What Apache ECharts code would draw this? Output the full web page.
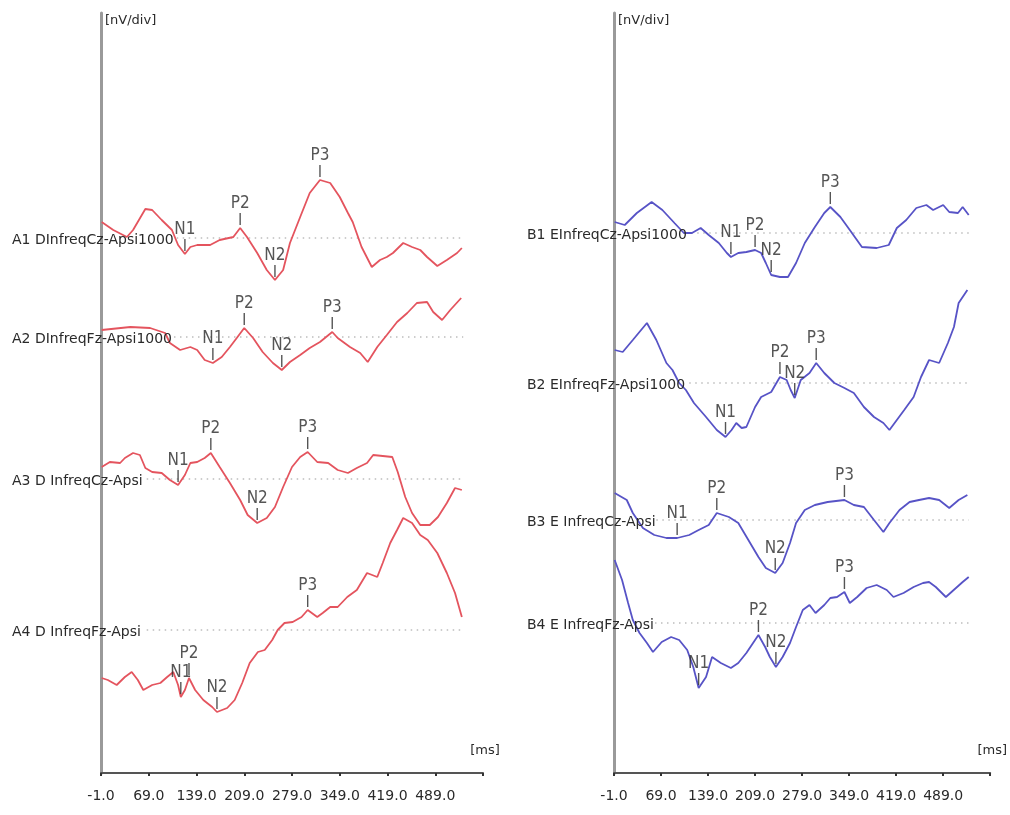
<!DOCTYPE html>
<html>
<head>
<meta charset="utf-8">
<script src="https://cdn.jsdelivr.net/npm/echarts@6/dist/echarts.min.js"></script>
<style>
html,body{margin:0;padding:0;background:#fff;}
#c{width:1010px;height:815px;}
</style>
</head>
<body>
<div id="c"></div>
<script>
// ---- DATA (time in ms, amplitude in arbitrary units relative to each trace baseline) ----
const xTicksMs = [-1, 69, 139, 209, 279, 349, 419, 489];

const leftNames = ['A1 DInfreqCz-Apsi1000', 'A2 DInfreqFz-Apsi1000', 'A3 D InfreqCz-Apsi', 'A4 D InfreqFz-Apsi'];
const rightNames = ['B1 EInfreqCz-Apsi1000', 'B2 EInfreqFz-Apsi1000', 'B3 E InfreqCz-Apsi', 'B4 E InfreqFz-Apsi'];

const A1 = [[0,1.6],[17,0.8],[37,0.1],[46,0.8],[64,2.9],[74,2.8],[88,1.8],[103,0.8],[112,-0.7],[122,-1.6],[130,-0.9],[140,-0.7],[159,-0.7],[173,-0.2],[193,0.1],[203,1.0],[213,0.1],[228,-1.5],[242,-3.2],[254,-4.2],[266,-3.2],[276,-0.5],[291,2.1],[305,4.5],[320,5.8],[335,5.5],[349,4.1],[361,2.5],[368,1.6],[381,-0.9],[396,-2.9],[408,-2.2],[418,-1.9],[427,-1.5],[442,-0.5],[455,-0.9],[467,-1.2],[477,-1.9],[492,-2.8],[506,-2.2],[521,-1.5],[528,-1.0]];
const A2 = [[0,0.7],[42,1.0],[71,0.9],[93,0.4],[100,-0.6],[115,-1.3],[130,-1.0],[140,-1.3],[151,-2.3],[163,-2.6],[176,-2.0],[188,-1.0],[198,-0.1],[209,0.9],[222,-0.1],[236,-1.5],[251,-2.6],[264,-3.3],[276,-2.5],[291,-1.8],[305,-1.1],[320,-0.5],[338,0.5],[346,-0.1],[364,-1.0],[379,-1.6],[390,-2.5],[404,-1.0],[418,0.2],[433,1.5],[448,2.4],[462,3.4],[477,3.5],[486,2.5],[499,1.7],[511,2.7],[527,3.9]];
const A3 = [[0,1.2],[12,1.7],[27,1.6],[34,2.1],[46,2.6],[56,2.4],[64,1.1],[74,0.7],[88,0.6],[100,-0.1],[112,-0.6],[122,0.4],[130,1.6],[140,1.7],[151,2.1],[160,2.6],[173,1.2],[188,-0.4],[203,-2.1],[214,-3.6],[228,-4.4],[242,-3.9],[254,-2.8],[266,-0.8],[279,1.2],[291,2.2],[302,2.7],[316,1.7],[332,1.6],[346,0.9],[361,0.6],[374,1.1],[389,1.6],[398,2.4],[426,2.2],[434,0.7],[445,-1.8],[455,-3.4],[467,-4.6],[481,-4.6],[493,-3.8],[506,-2.4],[518,-0.9],[528,-1.1]];
const A4 = [[0,-4.8],[9,-5.0],[22,-5.5],[34,-4.7],[44,-4.2],[53,-5.0],[61,-6.0],[74,-5.5],[86,-5.3],[96,-4.7],[105,-4.2],[112,-5.5],[116,-6.7],[122,-6.0],[128,-4.8],[137,-6.0],[149,-7.0],[162,-7.7],[169,-8.2],[184,-7.8],[195,-7.0],[206,-5.3],[217,-3.3],[229,-2.2],[239,-2.0],[250,-1.0],[258,0.0],[268,0.7],[280,0.8],[293,1.3],[302,2.0],[316,1.3],[324,1.7],[335,2.3],[346,2.3],[360,3.3],[374,4.0],[389,5.7],[404,5.3],[412,6.7],[423,8.7],[433,10.0],[442,11.2],[455,10.7],[467,9.5],[478,9.0],[492,7.7],[506,5.7],[518,3.7],[528,1.3]];

const B1 = [[0,1.1],[15,0.8],[33,2.0],[55,3.1],[71,2.3],[89,1.0],[103,0.0],[115,0.0],[128,0.5],[140,-0.2],[155,-1.0],[167,-2.0],[173,-2.4],[184,-2.0],[196,-1.9],[209,-1.7],[218,-2.0],[225,-3.0],[233,-4.2],[246,-4.4],[258,-4.4],[270,-3.0],[283,-1.0],[298,0.6],[312,2.0],[321,2.6],[336,1.6],[350,0.3],[368,-1.4],[390,-1.5],[408,-1.2],[420,0.5],[434,1.3],[449,2.5],[464,2.8],[474,2.3],[489,2.8],[498,2.1],[511,2.0],[518,2.6],[527,1.8]];
const B2 = [[0,3.3],[12,3.1],[27,4.3],[48,6.0],[62,4.3],[77,2.0],[86,1.3],[96,0.0],[106,-0.7],[118,-2.0],[136,-3.4],[152,-4.7],[165,-5.4],[174,-4.7],[181,-4.0],[189,-4.5],[196,-4.4],[209,-2.4],[218,-1.4],[233,-0.9],[239,-0.2],[246,0.6],[256,0.3],[262,-0.7],[268,-1.5],[277,0.3],[290,1.0],[300,2.0],[312,1.0],[327,0.0],[342,-0.5],[356,-1.0],[371,-2.4],[386,-3.4],[400,-4.0],[409,-4.7],[420,-3.7],[431,-2.7],[445,-1.4],[456,0.6],[468,2.3],[483,2.0],[496,4.0],[505,5.6],[512,8.0],[525,9.3]];
const B3 = [[0,2.7],[18,2.0],[27,0.7],[42,-0.8],[59,-1.5],[77,-1.8],[93,-1.8],[111,-1.5],[125,-1.0],[140,-0.5],[152,0.7],[170,0.3],[184,-0.3],[199,-2.0],[214,-3.7],[225,-4.8],[239,-5.3],[250,-4.3],[261,-2.3],[270,-0.3],[283,1.0],[298,1.5],[317,1.8],[342,2.0],[356,1.5],[371,1.3],[386,0.0],[400,-1.2],[409,-0.3],[424,1.0],[439,1.8],[453,2.0],[468,2.2],[483,2.0],[498,1.2],[512,2.0],[525,2.5]];
const B4 = [[0,6.3],[11,4.3],[20,2.0],[27,0.3],[37,-1.0],[48,-2.0],[57,-2.9],[70,-1.9],[84,-1.4],[96,-1.7],[108,-2.7],[117,-4.4],[125,-6.5],[136,-5.4],[145,-3.4],[158,-4.0],[173,-4.5],[184,-4.0],[196,-3.0],[206,-2.0],[214,-1.2],[224,-2.4],[231,-3.4],[240,-4.4],[250,-3.4],[261,-2.0],[270,-0.4],[280,1.3],[290,1.8],[299,1.0],[312,1.8],[321,2.5],[331,2.6],[342,3.1],[350,2.0],[361,2.6],[375,3.5],[390,3.8],[405,3.3],[415,2.6],[430,3.0],[445,3.6],[459,4.0],[468,4.1],[478,3.6],[493,2.6],[508,3.5],[518,4.1],[527,4.6]];

const peaksA1 = [['N1',122],['P2',203],['N2',254],['P3',320]];
const peaksA2 = [['N1',163],['P2',209],['N2',264],['P3',338]];
const peaksA3 = [['N1',112],['P2',160],['N2',228],['P3',302]];
const peaksA4 = [['N1',116],['P2',128],['N2',169],['P3',302]];
const peaksB1 = [['N1',173],['P2',209],['N2',233],['P3',321]];
const peaksB2 = [['N1',165],['P2',246],['N2',268],['P3',300]];
const peaksB3 = [['N1',93],['P2',152],['N2',239],['P3',342]];
const peaksB4 = [['N1',125],['P2',214],['N2',240],['P3',342]];

// vertical offsets of the stacked traces (axis units)
const leftOffsets = [53.5, 43.6, 29.4, 14.3];
const rightOffsets = [54.0, 39.0, 25.3, 15.0];
// dotted baseline extent in ms
const leftBaseStart = [110, 106, 66, 66];
const rightBaseStart = [105, 111, 62, 60];
const leftBaseEnd = 530;
const rightBaseEnd = 527;

// ---- BUILD ----
const SHIFT = 1; // axis runs from -1 ms; internally shifted so ticks fall on -1, 69, 139 ...
const RED = '#e4545e';
const BLUE = '#5753c6';
const FONT = 'DejaVu Sans';

function traceData(tr, off) { return tr.map(p => [p[0] + SHIFT, p[1] + off]); }
function peakData(tr, peaks, off) {
  return peaks.map(([name, ms]) => {
    let best = tr[0];
    tr.forEach(p => { if (Math.abs(p[0] - ms) < Math.abs(best[0] - ms)) best = p; });
    return { name: name, value: [best[0] + SHIFT, best[1] + off] };
  });
}

const series = [];
function addPanel(traces, peaks, offsets, starts, end, color, gi) {
  traces.forEach((tr, i) => {
    series.push({
      type: 'line', xAxisIndex: gi, yAxisIndex: gi, silent: true, z: 1,
      data: [[starts[i] + SHIFT, offsets[i]], [end + SHIFT, offsets[i]]],
      showSymbol: false, symbol: 'none',
      lineStyle: { color: '#9c9c9c', width: 1.2, type: [1.5, 4.5] }
    });
    series.push({
      type: 'line', xAxisIndex: gi, yAxisIndex: gi, silent: true, z: 3,
      data: traceData(tr, offsets[i]),
      showSymbol: false, symbol: 'none',
      lineStyle: { color: color, width: 1.8 }
    });
    series.push({
      type: 'scatter', xAxisIndex: gi, yAxisIndex: gi, silent: true, z: 4,
      data: peakData(tr, peaks[i], offsets[i]),
      symbol: 'rect', symbolSize: [1.4, 12], symbolOffset: [0, -9],
      itemStyle: { color: '#2a2a2a' },
      label: {
        show: true, position: 'top', distance: 1,
        formatter: p => p.name, color: '#2a2a2a',
        fontFamily: "'DejaVu Sans Condensed', " + FONT, fontSize: 17
      }
    });
  });
}
addPanel([A1, A2, A3, A4], [peaksA1, peaksA2, peaksA3, peaksA4], leftOffsets, leftBaseStart, leftBaseEnd, RED, 0);
addPanel([B1, B2, B3, B4], [peaksB1, peaksB2, peaksB3, peaksB4], rightOffsets, rightBaseStart, rightBaseEnd, BLUE, 1);

function xAxis(gi) {
  return {
    type: 'value', gridIndex: gi, min: 0, max: 560, interval: 70,
    name: '[ms]', nameLocation: 'end', nameGap: 2,
    nameTextStyle: { color: '#2a2a2a', fontFamily: FONT, fontSize: 13, align: 'center', verticalAlign: 'bottom', padding: [0, 0, 16, 0] },
    axisLine: { show: true, onZero: false, lineStyle: { color: '#555', width: 2 } },
    axisTick: { show: true, length: 3, lineStyle: { color: '#333', width: 2 } },
    splitLine: { show: false },
    axisLabel: {
      color: '#2a2a2a', fontFamily: FONT, fontSize: 14, margin: 16,
      formatter: v => xTicksMs.indexOf(Math.round(v - SHIFT)) >= 0 ? (v - SHIFT).toFixed(1) : ''
    }
  };
}
function yAxis(gi) {
  return {
    type: 'value', gridIndex: gi, min: 0, max: 76,
    name: '[nV/div]', nameLocation: 'end', nameGap: -8,
    nameTextStyle: { color: '#2a2a2a', fontFamily: FONT, fontSize: 13, align: 'left', verticalAlign: 'middle', padding: [0, 0, 0, 4] },
    axisLine: { show: true, lineStyle: { color: '#9a9a9a', width: 3 } },
    axisTick: { show: false }, axisLabel: { show: false }, splitLine: { show: false }
  };
}

const option = {
  animation: false,
  backgroundColor: '#fff',
  grid: [
    { left: 101, top: 13, width: 382, height: 760 },
    { left: 614, top: 13, width: 380, height: 760 }
  ],
  xAxis: [xAxis(0), xAxis(1)],
  yAxis: [yAxis(0), yAxis(1)],
  series: series
};

const chart = echarts.init(document.getElementById('c'), null, { renderer: 'canvas' });
chart.setOption(option);

const graphics = [];
function addNames(names, offsets, gi, x) {
  names.forEach((n, i) => {
    const y = chart.convertToPixel({ gridIndex: gi }, [SHIFT, offsets[i]])[1];
    graphics.push({
      type: 'text', x: x, y: y + 2, z: 10,
      style: { text: n, fill: '#2a2a2a', font: '14px ' + FONT, verticalAlign: 'middle', align: 'left' }
    });
  });
}
addNames(leftNames, leftOffsets, 0, 12);
addNames(rightNames, rightOffsets, 1, 527);
chart.setOption({ graphic: graphics });
</script>
</body>
</html>
